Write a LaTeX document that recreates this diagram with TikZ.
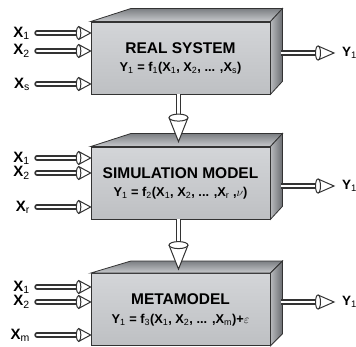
\documentclass[tikz,border=0pt]{standalone}
\usepackage{fontspec}
\setmainfont{Liberation Sans}
\usetikzlibrary{calc}
\definecolor{edge}{HTML}{333333}
\definecolor{frontA}{HTML}{D3D5D8}
\definecolor{frontB}{HTML}{BEC0C3}
\definecolor{topA}{HTML}{7C7F83}
\definecolor{topB}{HTML}{C8CACD}
\definecolor{sideA}{HTML}{B8BABD}
\definecolor{sideB}{HTML}{6A6D71}
\newcommand{\xsub}[1]{\textsubscript{\mdseries #1}}
\tikzset{
  face/.style={draw=edge,line width=.8pt,minimum width=179pt,minimum height=72pt,inner sep=0pt,top color=frontA,bottom color=frontB},
  lid/.style={draw=edge,line width=.8pt,top color=topA,bottom color=topB},
  side/.style={draw=edge,line width=.8pt,left color=sideA,right color=sideB},
  title/.style={font=\fontsize{15.5}{18}\selectfont\bfseries},
  formula/.style={font=\fontsize{12.8}{15}\selectfont\bfseries},
  lbl/.style={font=\fontsize{15}{17}\selectfont\bfseries,inner sep=0pt},
  outlbl/.style={font=\fontsize{13.5}{16}\selectfont\bfseries,inner sep=0pt},
  shaft/.style={draw=edge,line width=1.5pt,double=white,double distance=2.4pt,line cap=round},
  pics/cone/.style args={#1/#2/#3}{code={
    \draw[draw=edge,line width=1pt,fill=white] (0pt,0pt) -- (-#1,#2) arc[start angle=90,end angle=270,x radius=#3,y radius=#2] -- cycle;
    \draw[draw=edge,line width=1pt] (-#1,#2) arc[start angle=90,end angle=-90,x radius=#3,y radius=#2];
  }}
}
\begin{document}
\begin{tikzpicture}[x=1pt,y=-1pt]
\useasboundingbox (0,0) rectangle (356,347);

% real system
\node[face] (real) at (180.5,58) {};
\draw[lid] (real.north west) -- ++(40,-13) -- ($(real.north east)+(12,-13)$) -- (real.north east) -- cycle;
\draw[side] (real.north east) -- ++(12,-13) -- ($(real.south east)+(12,-13)$) -- (real.south east) -- cycle;
\node[title] (realtitle) at ($(real.center)+(0,-10)$) {REAL SYSTEM};
\node[formula] (realf) at ($(real.center)+(0,10)$) {Y\xsub{1} = f\xsub{1}(X\xsub{1}, X\xsub{2}, ... ,X\xsub{s})};
\foreach \n/\s/\yy in {1/1/33,2/2/51,3/s/84}{
  \node[lbl,anchor=east] (realx\n) at (30,\yy) {X\xsub{\s}};
  \draw[shaft] ($(realx\n.east)+(7,0)$) -- ($(realx\n.east -| real.west)+(-10,0)$);
  \pic at (realx\n.east -| real.west) {cone=12pt/6.5pt/2.2pt};
}
\node[outlbl,anchor=west] (realy) at (342,53) {Y\xsub{1}};
\draw[shaft,line cap=butt] ($(real.east |- realy.west)+(11,0)$) -- ($(realy.west)+(-23,0)$);
\pic at ($(realy.west)+(-8,0)$) {cone=16pt/7pt/2.5pt};

% simulation model
\node[face] (sim) at (180.5,183) {};
\draw[lid] (sim.north west) -- ++(40,-13) -- ($(sim.north east)+(12,-13)$) -- (sim.north east) -- cycle;
\draw[side] (sim.north east) -- ++(12,-13) -- ($(sim.south east)+(12,-13)$) -- (sim.south east) -- cycle;
\node[title] (simtitle) at ($(sim.center)+(0,-10)$) {SIMULATION MODEL};
\node[formula] (simf) at ($(sim.center)+(0,10)$) {Y\xsub{1} = f\xsub{2}(X\xsub{1}, X\xsub{2}, ... ,X\xsub{r} ,$\nu$)};
\foreach \n/\s/\yy in {1/1/158,2/2/173,3/r/207}{
  \node[lbl,anchor=east] (simx\n) at (30,\yy) {X\xsub{\s}};
  \draw[shaft] ($(simx\n.east)+(7,0)$) -- ($(simx\n.east -| sim.west)+(-10,0)$);
  \pic at (simx\n.east -| sim.west) {cone=12pt/6.5pt/2.2pt};
}
\node[outlbl,anchor=west] (simy) at (342,186) {Y\xsub{1}};
\draw[shaft,line cap=butt] ($(sim.east |- simy.west)+(11,0)$) -- ($(simy.west)+(-23,0)$);
\pic at ($(simy.west)+(-8,0)$) {cone=16pt/7pt/2.5pt};

\draw[shaft,line cap=butt] ($(real.south)+(-2,0)$) -- ($(sim.north)+(-2,-29)$);
\pic[rotate=-90] at ($(sim.north)+(-2,-5)$) {cone=24pt/9.5pt/3.5pt};

% metamodel
\node[face] (meta) at (180.5,309.5) {};
\draw[lid] (meta.north west) -- ++(40,-12) -- ($(meta.north east)+(12,-12)$) -- (meta.north east) -- cycle;
\draw[side] (meta.north east) -- ++(12,-12) -- ($(meta.south east)+(12,-12)$) -- (meta.south east) -- cycle;
\node[title] (metatitle) at ($(meta.center)+(0,-10)$) {METAMODEL};
\node[formula] (metaf) at ($(meta.center)+(0,11)$) {Y\xsub{1} = f\xsub{3}(X\xsub{1}, X\xsub{2}, ... ,X\xsub{m})+$\varepsilon$};
\foreach \n/\s/\yy in {1/1/287,2/2/302,3/m/335}{
  \node[lbl,anchor=east] (metax\n) at (30,\yy) {X\xsub{\s}};
  \draw[shaft] ($(metax\n.east)+(7,0)$) -- ($(metax\n.east -| meta.west)+(-10,0)$);
  \pic at (metax\n.east -| meta.west) {cone=12pt/6.5pt/2.2pt};
}
\node[outlbl,anchor=west] (metay) at (342,302) {Y\xsub{1}};
\draw[shaft,line cap=butt] ($(meta.east |- metay.west)+(11,0)$) -- ($(metay.west)+(-23,0)$);
\pic at ($(metay.west)+(-8,0)$) {cone=16pt/7pt/2.5pt};

\draw[shaft,line cap=butt] ($(sim.south)+(-2,0)$) -- ($(meta.north)+(-2,-28)$);
\pic[rotate=-90] at ($(meta.north)+(-2,-4)$) {cone=24pt/9.5pt/3.5pt};
\end{tikzpicture}
\end{document}
